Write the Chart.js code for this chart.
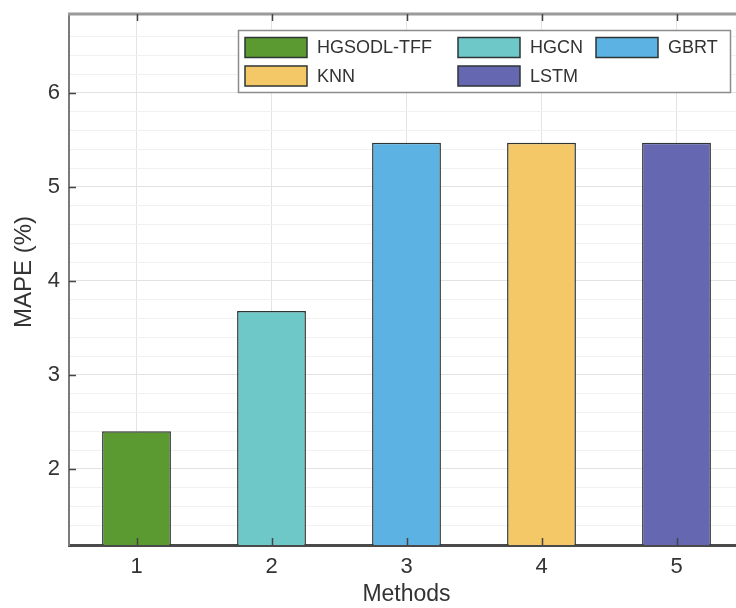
<!DOCTYPE html>
<html>
<head>
<meta charset="utf-8">
<style>
  html, body { margin: 0; padding: 0; background: #ffffff; overflow: hidden; }
  #wrap { width: 736px; height: 608px; overflow: hidden; }
  canvas { display: block; }
</style>
<script src="https://cdn.jsdelivr.net/npm/chart.js@4/dist/chart.umd.min.js"></script>
</head>
<body>
<div id="wrap"><canvas id="chart" width="760" height="608"></canvas></div>
<script>
// Method index labels on the x axis
const methodTicks = ['1', '2', '3', '4', '5'];
// Method names (one bar each)
const methodNames = ['HGSODL-TFF', 'HGCN', 'GBRT', 'KNN', 'LSTM'];
// MAPE (%) per method
const mapeValues = [2.40, 3.68, 5.47, 5.47, 5.47];
// Bar fill colours
const barColors = ['#5b9a31', '#6ec8c7', '#5cb2e3', '#f4c866', '#6667b1'];
// Legend layout: rows of method indices
const legendRows = [[0, 1, 2], [3, 4]];
// Axis titles
const xTitle = 'Methods';
const yTitle = 'MAPE (%)';

const FONT = '"Liberation Sans", Arial, Helvetica, sans-serif';
const TEXT = '#333333';

// one dataset per method so each bar gets its own legend entry
const datasets = methodNames.map((name, i) => ({
  label: name,
  data: methodTicks.map((_, j) => (j === i ? mapeValues[i] : null)),
  backgroundColor: barColors[i],
  borderColor: '#2e3535',
  borderWidth: 1.5,
  borderSkipped: false,
  grouped: false,
  barPercentage: 0.51,
  categoryPercentage: 1.0
}));

const isInt = v => Math.abs(v - Math.round(v)) < 1e-6;

// frame, inward tick marks, y title and the boxed legend inside the plot
const framePlugin = {
  id: 'frameAndLegend',
  afterDatasetsDraw(chart) {
    const { ctx, chartArea: a, scales: { x, y } } = chart;
    ctx.save();
    // top border
    ctx.strokeStyle = '#9a9a9a';
    ctx.lineWidth = 3;
    ctx.beginPath();
    ctx.moveTo(a.left - 1, a.top);
    ctx.lineTo(a.right + 20, a.top);
    ctx.stroke();

    // inward tick marks
    ctx.strokeStyle = '#444444';
    ctx.lineWidth = 1.5;
    ctx.beginPath();
    y.ticks.forEach(t => {
      if (!isInt(t.value)) return;
      const py = Math.round(y.getPixelForValue(t.value)) + 0.5;
      ctx.moveTo(a.left, py);
      ctx.lineTo(a.left + 7, py);
    });
    methodTicks.forEach((_, i) => {
      const px = Math.round(x.getPixelForValue(i)) + 0.5;
      ctx.moveTo(px, a.bottom);
      ctx.lineTo(px, a.bottom - 7);
      ctx.moveTo(px, a.top);
      ctx.lineTo(px, a.top + 7);
    });
    ctx.stroke();

    // y axis title
    ctx.save();
    ctx.translate(24, 272);
    ctx.rotate(-Math.PI / 2);
    ctx.font = '24px ' + FONT;
    ctx.fillStyle = TEXT;
    ctx.textAlign = 'center';
    ctx.textBaseline = 'middle';
    ctx.fillText(yTitle, 0, 0);
    ctx.restore();

    // legend
    const box = { left: 238.5, top: 30.5, right: 730.5, bottom: 92.5 };
    ctx.fillStyle = '#ffffff';
    ctx.fillRect(box.left, box.top, box.right - box.left, box.bottom - box.top);
    ctx.strokeStyle = '#8c8c8c';
    ctx.lineWidth = 1.5;
    ctx.strokeRect(box.left, box.top, box.right - box.left, box.bottom - box.top);

    const colX = [245, 458, 596];
    const rowY = [37.5, 66];
    const swW = 62, swH = 20;
    ctx.font = '18px ' + FONT;
    ctx.textBaseline = 'middle';
    ctx.textAlign = 'left';
    legendRows.forEach((row, r) => {
      row.forEach((di, c) => {
        const ds = chart.data.datasets[di];
        const sx = colX[c], sy = rowY[r];
        ctx.fillStyle = ds.backgroundColor;
        ctx.fillRect(sx, sy, swW, swH);
        ctx.strokeStyle = '#2e3535';
        ctx.lineWidth = 1.5;
        ctx.strokeRect(sx, sy, swW, swH);
        ctx.fillStyle = TEXT;
        ctx.fillText(ds.label, sx + swW + 10, sy + swH / 2 + 1);
      });
    });
    ctx.restore();
  }
};

new Chart(document.getElementById('chart'), {
  type: 'bar',
  data: { labels: methodTicks, datasets },
  plugins: [framePlugin],
  options: {
    responsive: false,
    animation: false,
    layout: { padding: { top: 14, right: 16, left: 0, bottom: 0 } },
    plugins: {
      legend: { display: false },
      tooltip: { enabled: false },
      title: { display: false }
    },
    scales: {
      x: {
        type: 'category',
        offset: true,
        afterFit(scale) {
          scale.height = 63;
          scale.paddingLeft = 0;
          scale.paddingRight = 0;
        },
        grid: {
          offset: false,
          drawTicks: false,
          color: '#e4e4e4',
          lineWidth: 1
        },
        border: { display: true, color: '#4a4a4a', width: 3 },
        ticks: {
          padding: 9,
          color: TEXT,
          font: { family: FONT, size: 22 }
        },
        title: {
          display: true,
          text: xTitle,
          color: TEXT,
          font: { family: FONT, size: 23, lineHeight: 1 },
          padding: { top: 0, bottom: 2 }
        }
      },
      y: {
        type: 'linear',
        min: 1.19,
        max: 6.84,
        afterFit(scale) {
          scale.width = 69;
          scale.paddingTop = 0;
          scale.paddingBottom = 0;
        },
        grid: {
          drawTicks: false,
          color: ctx => (ctx.tick && isInt(ctx.tick.value) ? '#e2e2e2' : '#f1f1f1'),
          lineWidth: 1
        },
        border: { display: true, color: '#7a7a7a', width: 2 },
        ticks: {
          stepSize: 0.2,
          autoSkip: false,
          padding: 9,
          color: TEXT,
          font: { family: FONT, size: 22 },
          callback: v => (isInt(v) ? String(Math.round(v)) : '')
        },
        title: { display: false }
      }
    }
  }
});
</script>
</body>
</html>
